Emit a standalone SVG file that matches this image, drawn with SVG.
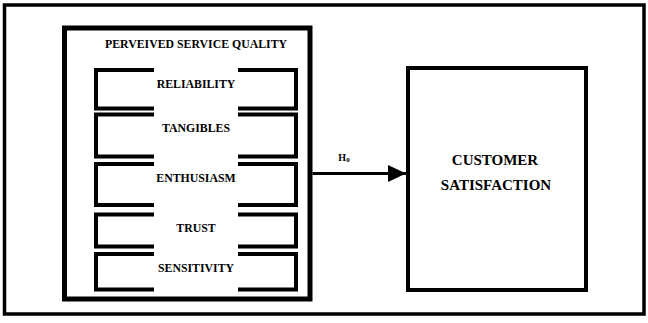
<svg xmlns="http://www.w3.org/2000/svg" width="648" height="323" viewBox="0 0 648 323">
<defs>
<style>
.t{font-family:"Liberation Serif","Times New Roman",serif;font-weight:bold;fill:#000;text-anchor:middle}
.s{font-size:11.8px}
.br{fill:none;stroke:#000;stroke-width:4}
</style>
<marker id="ah" markerWidth="6" markerHeight="6" refX="5.3" refY="2.5" orient="auto" markerUnits="strokeWidth" viewBox="0 0 5.3 5">
<path d="M0,0 L5.3,2.5 L0,5 Z" fill="#000"/>
</marker>
</defs>
<rect x="0" y="0" width="648" height="323" fill="#fff"/>
<rect id="frame" x="4.5" y="5" width="639.5" height="309" fill="none" stroke="#000" stroke-width="3.5"/>
<g id="psq">
<rect x="64.5" y="28" width="245.5" height="271" fill="none" stroke="#000" stroke-width="5"/>
<text class="t s" x="196" y="47.5">PERVEIVED SERVICE QUALITY</text>
</g>
<g id="reliability">
<path class="br" d="M154,70 H96 V108.5 H154 M238,70 H296 V108.5 H238"/>
<text class="t s" x="196" y="87.5">RELIABILITY</text>
</g>
<g id="tangibles">
<path class="br" d="M154,114.5 H96 V156.5 H154 M238,114.5 H296 V156.5 H238"/>
<text class="t s" x="196" y="131.5">TANGIBLES</text>
</g>
<g id="enthusiasm">
<path class="br" d="M154,164 H96 V205 H154 M238,164 H296 V205 H238"/>
<text class="t s" x="196" y="181.5">ENTHUSIASM</text>
</g>
<g id="trust">
<path class="br" d="M154,214.5 H96 V246.5 H154 M238,214.5 H296 V246.5 H238"/>
<text class="t s" x="196" y="231.5">TRUST</text>
</g>
<g id="sensitivity">
<path class="br" d="M154,254 H96 V289.5 H154 M238,254 H296 V289.5 H238"/>
<text class="t s" x="196" y="271.5">SENSITIVITY</text>
</g>
<g id="cs">
<rect x="408" y="68" width="178" height="222" fill="none" stroke="#000" stroke-width="4"/>
<text class="t" x="495" y="164.5" font-size="15">CUSTOMER</text>
<text class="t" x="496" y="189.5" font-size="15">SATISFACTION</text>
</g>
<g id="connectors">
<line x1="312.5" y1="173.5" x2="406" y2="173.5" stroke="#000" stroke-width="3" marker-end="url(#ah)"/>
<text class="t" x="344" y="161" font-size="10">H<tspan font-size="7" dy="1">0</tspan></text>
</g>
</svg>
